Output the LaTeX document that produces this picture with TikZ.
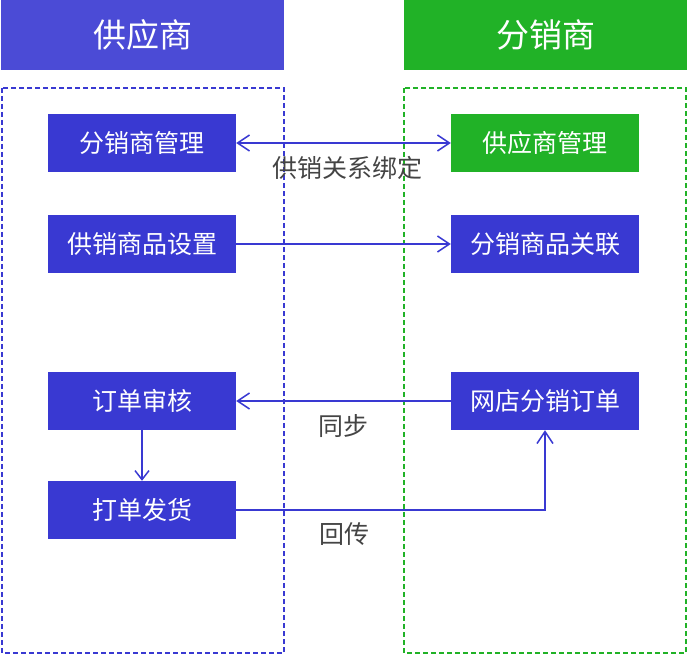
\documentclass[tikz,border=0pt]{standalone}
\usepackage{xcolor}
\usepackage{fontspec}
\setmainfont{Noto Sans CJK SC}
\usepackage{tikz}
\usetikzlibrary{arrows.meta, quotes}

\definecolor{hdrblue}{HTML}{4B4BD6}
\definecolor{supblue}{HTML}{3939D2}
\definecolor{disgreen}{HTML}{21B227}
\definecolor{lblgray}{HTML}{444444}

\begin{document}
\begin{tikzpicture}[x=1pt, y=-1pt,
%
    header/.style={fill=#1,text=white,minimum width=283pt,minimum height=70pt,
                   inner sep=0pt,font=\fontsize{33}{35}\selectfont},
    task/.style={fill=#1,text=white,minimum width=188pt,minimum height=58pt,
                 inner sep=0pt,font=\fontsize{25}{27}\selectfont},
    task/.default=supblue,
    lane/.style={draw=#1,dashed,dash pattern=on 5pt off 3pt,line width=1.6pt},
     Arr/.style={-{Straight Barb[length=12pt,width=16pt,line width=1.5pt]},
                 supblue,line width=1.5pt},
    BiArr/.style={{Straight Barb[length=12pt,width=16pt,line width=1.5pt]}-{Straight Barb[length=12pt,width=16pt,line width=1.5pt]},
                 supblue,line width=1.5pt},
    lbl/.style={font=\fontsize{25}{27}\selectfont,text=lblgray,below=9pt},
    every edge quotes/.style={lbl},
                        ]
    \useasboundingbox (0,0) rectangle (688,655);

    \node[header=hdrblue]   (sup_head) at (142.5,35) {供应商};
    \node[header=disgreen]  (dis_head) at (545.5,35) {分销商};

    \draw[lane=supblue]  (2,88)   rectangle (284,653);
    \draw[lane=disgreen] (404,88) rectangle (686,653);

    \node[task]          (dis_mgr)   at (142,143) {分销商管理};
    \node[task]          (goods_set) at (142,244) {供销商品设置};
    \node[task]          (audit)     at (142,401) {订单审核};
    \node[task]          (ship)      at (142,510) {打单发货};

    \node[task=disgreen] (sup_mgr)   at (545,143) {供应商管理};
    \node[task]          (goods_lnk) at (545,244) {分销商品关联};
    \node[task]          (shop_ord)  at (545,401) {网店分销订单};

    \draw[BiArr] (dis_mgr) to ["供销关系绑定"{pos=0.52}] (sup_mgr);
    \draw[Arr] (goods_set) -- (goods_lnk);
    \draw[Arr] (shop_ord)  to ["同步"] (audit);
    \draw[Arr, -{Straight Barb[length=9pt,width=14pt,line width=1.5pt]}] (audit) -- (ship);
    \draw[Arr] (ship) -| node[pos=0.175,lbl] {回传} (shop_ord);

    \end{tikzpicture}
\end{document}
